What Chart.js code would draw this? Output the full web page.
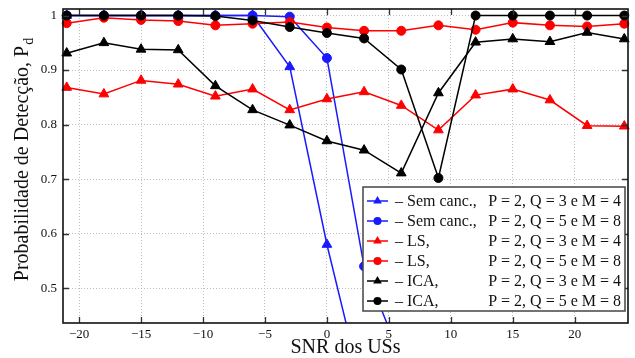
<!DOCTYPE html>
<html>
<head>
<meta charset="utf-8">
<script src="https://cdn.jsdelivr.net/npm/chart.js@4"></script>
<style>
    body { margin: 0; background: #fff; }
</style>
</head>
<body>
<canvas id="pd_chart" width="635" height="358"></canvas>
<script>
'use strict';
// SNR (dB) values on the x axis
const snr = [-21, -18, -15, -12, -9, -6, -3, 0, 3, 6, 9, 12, 15, 18, 21, 24];
// detection probability per method
const semCancQ3 = [1, 1, 1, 1, 1, 1, 0.906, 0.580, 0.30];
const semCancQ5 = [1, 1, 1, 1, 1, 1, 0.998, 0.922, 0.540, 0.37];
const lsQ3 = [0.868, 0.856, 0.881, 0.874, 0.852, 0.865, 0.827, 0.847, 0.860, 0.835, 0.790, 0.854, 0.865, 0.845, 0.798, 0.797];
const lsQ5 = [0.986, 0.996, 0.992, 0.990, 0.982, 0.985, 0.988, 0.978, 0.972, 0.972, 0.982, 0.974, 0.987, 0.982, 0.980, 0.985];
const icaQ3 = [0.931, 0.950, 0.938, 0.937, 0.871, 0.827, 0.799, 0.770, 0.753, 0.711, 0.858, 0.951, 0.957, 0.952, 0.969, 0.957];
const icaQ5 = [1, 1, 1, 1, 0.999, 0.991, 0.979, 0.968, 0.958, 0.901, 0.702, 1, 1, 1, 1, 1];

const xTicks = [-20, -15, -10, -5, 0, 5, 10, 15, 20];
const yTicks = [0.5, 0.6, 0.7, 0.8, 0.9, 1];
const methodNames = ['\u2013 Sem canc.,', '\u2013 Sem canc.,', '\u2013 LS,', '\u2013 LS,', '\u2013 ICA,', '\u2013 ICA,'];
const paramNames = ['P = 2, Q = 3 e M = 4', 'P = 2, Q = 5 e M = 8', 'P = 2, Q = 3 e M = 4',
    'P = 2, Q = 5 e M = 8', 'P = 2, Q = 3 e M = 4', 'P = 2, Q = 5 e M = 8'];

const FONT = "'Liberation Serif', 'DejaVu Serif', serif";

const toPoints = (vals) => vals.map((v, i) => ({x: snr[i], y: v}));

const series = [
    {vals: semCancQ3, color: '#1a1aff', style: 'triangle', order: 6},
    {vals: semCancQ5, color: '#1a1aff', style: 'circle', order: 5},
    {vals: lsQ3, color: '#ff0000', style: 'triangle', order: 4},
    {vals: lsQ5, color: '#ff0000', style: 'circle', order: 3},
    {vals: icaQ3, color: '#000000', style: 'triangle', order: 2},
    {vals: icaQ5, color: '#000000', style: 'circle', order: 1},
];

const datasets = series.map((s, i) => ({
    label: methodNames[i] + ' ' + paramNames[i],
    data: toPoints(s.vals),
    borderColor: s.color,
    backgroundColor: s.color,
    borderWidth: 1.5,
    pointStyle: s.style,
    pointRadius: s.style === 'triangle' ? 5.6 : 4.5,
    pointBorderWidth: 1,
    pointBackgroundColor: s.color,
    pointBorderColor: s.color,
    tension: 0,
    order: s.order,
    clip: {left: 6, top: 6, right: 6, bottom: 0},
}));

function drawMarker(ctx, style, x, y, r) {
    ctx.beginPath();
    if (style === 'circle') {
        ctx.arc(x, y, r, 0, Math.PI * 2);
    } else {
        let a = 0;
        ctx.moveTo(x + Math.sin(a) * r, y - Math.cos(a) * r);
        a += 2 * Math.PI / 3;
        ctx.lineTo(x + Math.sin(a) * r, y - Math.cos(a) * r);
        a += 2 * Math.PI / 3;
        ctx.lineTo(x + Math.sin(a) * r, y - Math.cos(a) * r);
        ctx.closePath();
    }
    ctx.fill();
}

const framePlugin = {
    id: 'frame',
    afterDraw(chart) {
        const ctx = chart.ctx;
        const a = chart.chartArea;
        const xs = chart.scales.x;
        const ys = chart.scales.y;
        ctx.save();

        // inner tick marks on all four sides
        ctx.strokeStyle = '#333';
        ctx.lineWidth = 1.3;
        ctx.beginPath();
        xTicks.forEach(v => {
            const px = Math.round(xs.getPixelForValue(v)) + 0.5;
            ctx.moveTo(px, a.bottom); ctx.lineTo(px, a.bottom - 6);
            ctx.moveTo(px, a.top); ctx.lineTo(px, a.top + 6);
        });
        yTicks.forEach(v => {
            const py = Math.round(ys.getPixelForValue(v)) + 0.5;
            ctx.moveTo(a.left, py); ctx.lineTo(a.left + 6, py);
            ctx.moveTo(a.right, py); ctx.lineTo(a.right - 6, py);
        });
        ctx.stroke();

        // plot box
        ctx.strokeStyle = '#111';
        ctx.lineWidth = 1.6;
        ctx.strokeRect(a.left, a.top, a.right - a.left, a.bottom - a.top);

        // legend
        const lx = 363, ly = 187, lw = 262, lh = 124;
        ctx.fillStyle = '#fff';
        ctx.fillRect(lx, ly, lw, lh);
        ctx.strokeStyle = '#444';
        ctx.lineWidth = 1.5;
        ctx.strokeRect(lx, ly, lw, lh);
        ctx.font = '16px ' + FONT;
        ctx.textBaseline = 'middle';
        series.forEach((s, i) => {
            const ry = 201 + i * 20;
            ctx.strokeStyle = s.color;
            ctx.lineWidth = 1.5;
            ctx.beginPath();
            ctx.moveTo(367, ry); ctx.lineTo(388, ry);
            ctx.stroke();
            ctx.fillStyle = s.color;
            drawMarker(ctx, s.style, 377.5, ry, s.style === 'triangle' ? 5 : 4);
            ctx.fillStyle = '#111';
            ctx.textAlign = 'left';
            ctx.fillText(methodNames[i], 395, ry + 1);
            ctx.textAlign = 'right';
            ctx.fillText(paramNames[i], 621, ry + 1);
        });

        // axis titles
        ctx.fillStyle = '#111';
        ctx.textBaseline = 'alphabetic';
        ctx.textAlign = 'center';
        ctx.font = '20px ' + FONT;
        ctx.fillText('SNR dos USs', (a.left + a.right) / 2, 353);

        const main = 'Probabilidade de Detecção, P';
        ctx.font = '20px ' + FONT;
        const w1 = ctx.measureText(main).width;
        ctx.font = '14px ' + FONT;
        const w2 = ctx.measureText('d').width;
        ctx.translate(28, 160);
        ctx.rotate(-Math.PI / 2);
        ctx.textAlign = 'left';
        ctx.font = '20px ' + FONT;
        ctx.fillText(main, -(w1 + w2) / 2, 0);
        ctx.font = '14px ' + FONT;
        ctx.fillText('d', -(w1 + w2) / 2 + w1 + 1, 5);
        ctx.restore();
    },
};

const ctx = document.getElementById('pd_chart').getContext('2d');
new Chart(ctx, {
    type: 'line',
    data: {datasets: datasets},
    options: {
        responsive: false,
        animation: false,
        devicePixelRatio: 1,
        layout: {padding: {top: 9, right: 7, left: 0, bottom: 0}},
        plugins: {
            legend: {display: false},
            tooltip: {enabled: false},
        },
        scales: {
            x: {
                type: 'linear',
                min: -21.3,
                max: 24.3,
                afterBuildTicks: (scale) => { scale.ticks = xTicks.map(v => ({value: v})); },
                afterFit: (scale) => {
                    scale.height = 35;
                    scale.paddingLeft = 0;
                    scale.paddingRight = 0;
                },
                grid: {color: '#bdbdbd', lineWidth: 1, drawTicks: false},
                border: {display: false, dash: [1, 2]},
                ticks: {
                    padding: 4,
                    color: '#111',
                    font: {family: FONT, size: 13},
                    maxRotation: 0,
                    callback: (v) => (v < 0 ? '\u2212' + Math.abs(v) : String(v)),
                },
            },
            y: {
                type: 'linear',
                min: 0.436,
                max: 1.012,
                afterBuildTicks: (scale) => { scale.ticks = yTicks.map(v => ({value: v})); },
                afterFit: (scale) => {
                    scale.width = 63;
                    scale.paddingTop = 0;
                    scale.paddingBottom = 0;
                },
                grid: {color: '#bdbdbd', lineWidth: 1, drawTicks: false},
                border: {display: false, dash: [1, 2]},
                ticks: {
                    padding: 6,
                    color: '#111',
                    font: {family: FONT, size: 13},
                    callback: (v) => (v === 1 ? '1' : v.toFixed(1)),
                },
            },
        },
    },
    plugins: [framePlugin],
});
</script>
</body>
</html>
